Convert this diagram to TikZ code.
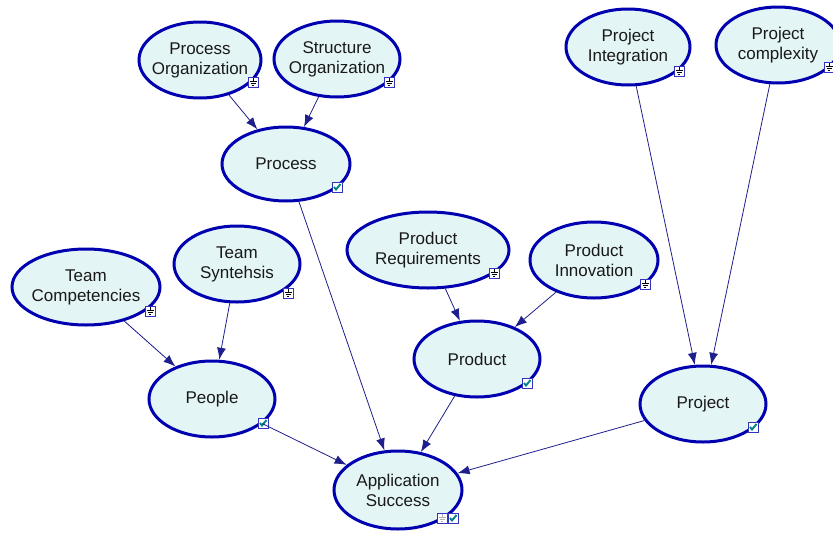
\documentclass[tikz,border=0pt]{standalone}
\usepackage{fontspec}
\setmainfont{Liberation Sans}
\usetikzlibrary{arrows.meta,shapes.geometric}
\definecolor{bubfill}{HTML}{E4F5F5}
\definecolor{bubedge}{HTML}{0000B0}
\definecolor{linkcol}{HTML}{1E1E8C}
\definecolor{tickcol}{HTML}{008585}

\tikzset{
	chkbox/.pic={\draw[bubedge!80,fill=white,line width=.8pt] (-5,-5) rectangle (5,5);
		\draw[tickcol,line width=1.9pt] (-3,0) -- (-1,2.5) -- (3.5,-3);},
	gndbox/.pic={\draw[bubedge!80,fill=white,line width=.8pt] (-5,-5) rectangle (5,5);
		\draw[#1,line width=.8pt] (0,-4) -- (0,-1) (-3.5,-1) -- (3.5,-1) (-2.5,1) -- (2.5,1) (-1.2,3) -- (1.2,3);},
	gndbox/.default=black!80
}

\begin{document}
\begin{tikzpicture}[x=1pt,y=-1pt,
	bub/.style={ellipse,draw=bubedge,fill=bubfill,line width=3pt,inner sep=0pt,minimum width=126pt,minimum height=76pt},
	every label/.style={align=center,text=black!90,font=\fontsize{17}{20}\selectfont},
	link/.style={draw=linkcol,line width=.8pt,-{Latex[length=12pt,width=9pt]}}]
	\useasboundingbox (0,0) rectangle (833,533);

	\node[bub,minimum width=122pt,label=center:Process\\Organization] (porg) at (200,60) {};
	\node[bub,label=center:Structure\\Organization] (sorg) at (337,59) {};
	\node[bub,minimum width=128pt,minimum height=74pt,label=center:Process] (proc) at (286,164) {};
	\node[bub,minimum width=124pt,label=center:Project\\Integration] (pint) at (628,47) {};
	\node[bub,minimum width=124pt,label=center:Project\\complexity] (pcpx) at (778,45) {};
	\node[bub,minimum width=162pt,label=center:Product\\Requirements] (preq) at (428,250) {};
	\node[bub,minimum width=128pt,label=center:Product\\Innovation] (pinn) at (594,260) {};
	\node[bub,minimum width=148pt,label=center:Team\\Competencies] (tcomp) at (86,287) {};
	\node[bub,label=center:Team\\Syntehsis] (tsyn) at (237,264) {};
	\node[bub,label=center:Product] (prod) at (477,359) {};
	\node[bub,label=center:People] (ppl) at (212,399) {};
	\node[bub,label=center:Project] (proj) at (703,404) {};
	\node[bub,minimum width=128pt,minimum height=78pt,label=center:Application\\Success] (app) at (398,490) {};

	\pic at (253,82) {gndbox};
	\pic at (389,82) {gndbox};
	\pic at (337,187) {chkbox};
	\pic at (679,71) {gndbox};
	\pic at (829,67) {gndbox};
	\pic at (494,273) {gndbox};
	\pic at (645,284) {gndbox};
	\pic at (150,311) {gndbox};
	\pic at (288,293) {gndbox};
	\pic at (527,383) {chkbox};
	\pic at (263,423) {chkbox};
	\pic at (753,427) {chkbox};
	\pic at (442,518) {gndbox=black!30};
	\pic at (453,518) {chkbox};

	\draw[link] (porg) -- (proc);
	\draw[link] (sorg) -- (proc);
	\draw[link] (proc) -- (app);
	\draw[link] (tcomp) -- (ppl);
	\draw[link] (tsyn) -- (ppl);
	\draw[link] (preq) -- (prod);
	\draw[link] (pinn) -- (prod);
	\draw[link] (ppl) -- (app);
	\draw[link] (prod) -- (app);
	\draw[link] (pint) -- (proj);
	\draw[link] (pcpx) -- (proj);
	\draw[link] (proj) -- (app);
\end{tikzpicture}
\end{document}
